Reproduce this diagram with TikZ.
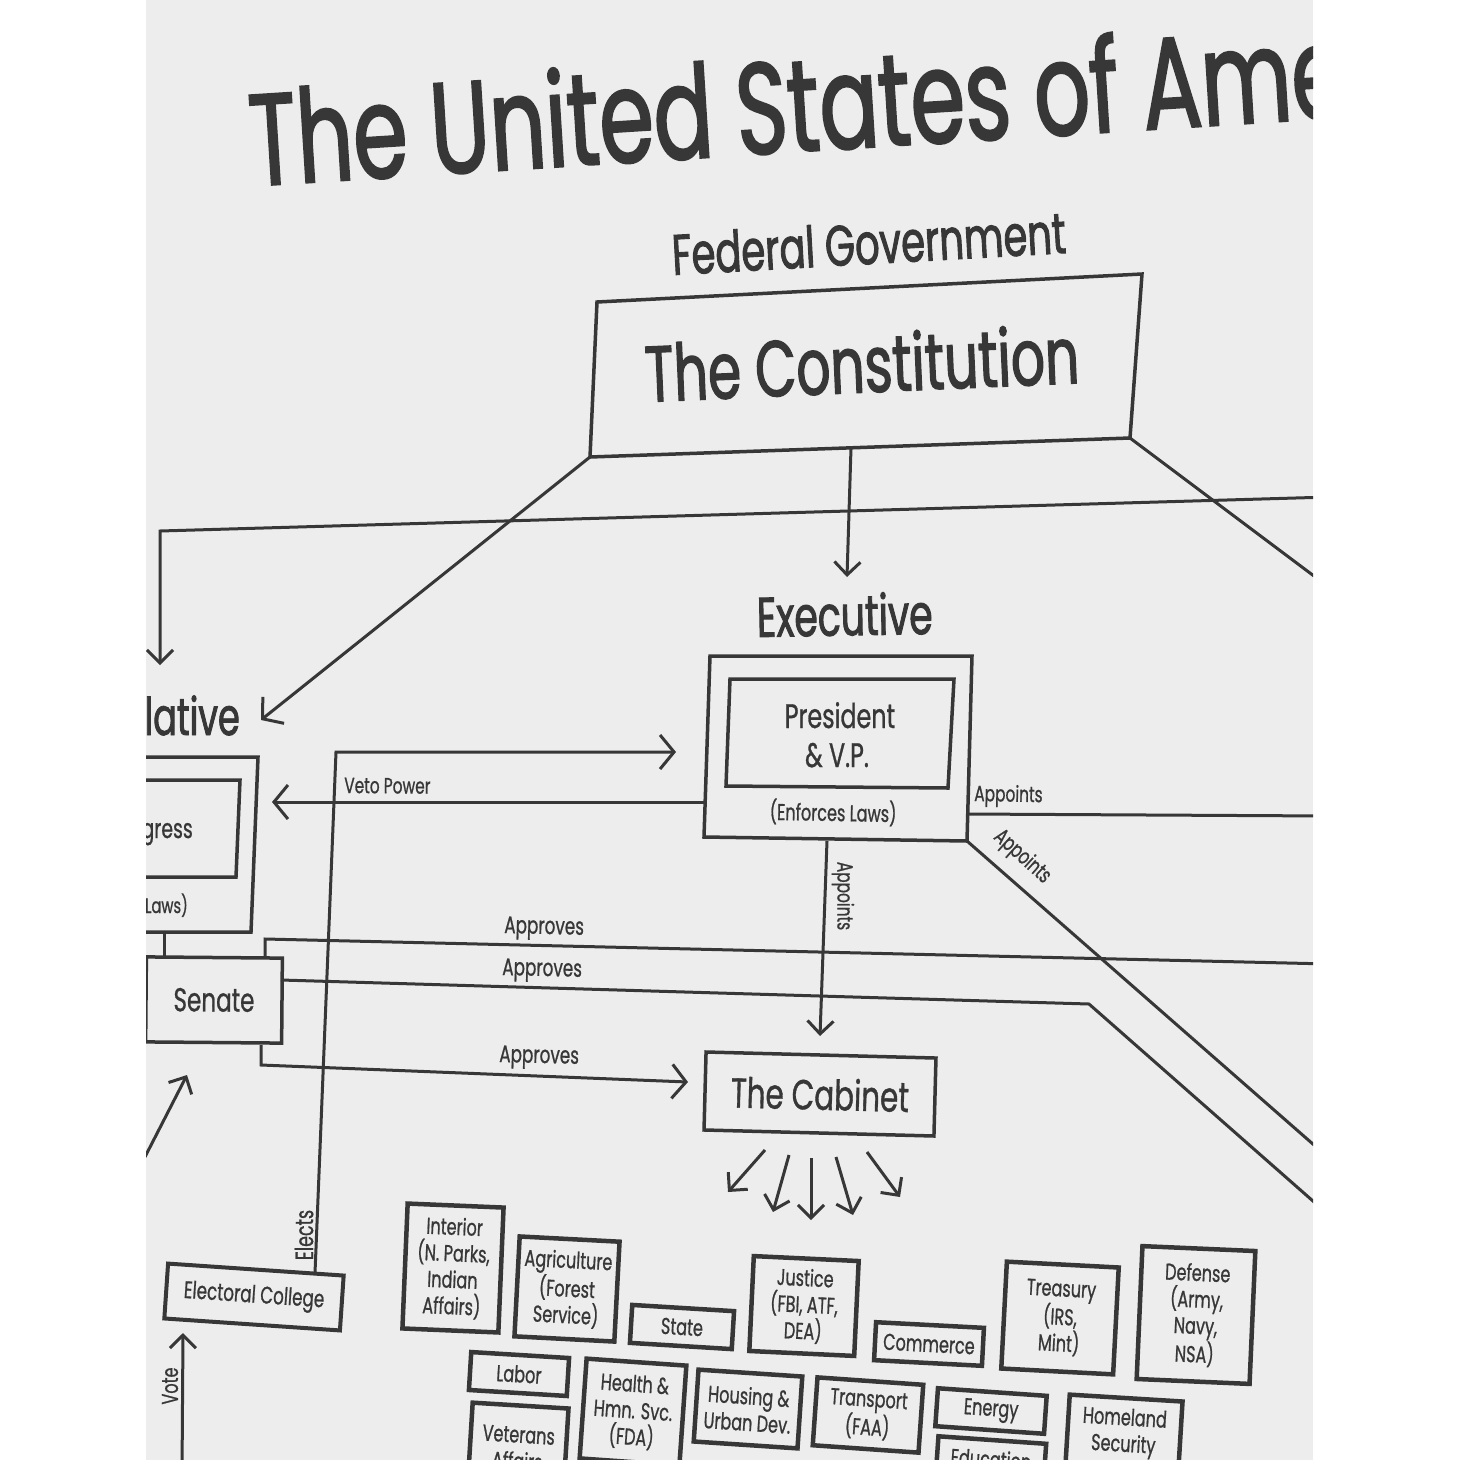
\documentclass[tikz,border=0pt]{standalone}
\usepackage{fontspec}
\newfontfamily\fut[FakeStretch=0.7,FakeBold=0.8]{Poppins}
\newfontfamily\futT[FakeStretch=0.675,FakeBold=1.6]{Poppins}
\usetikzlibrary{arrows.meta}
\definecolor{ink}{RGB}{55,55,55}
\definecolor{paper}{RGB}{237,237,237}
\newcommand{\fsz}[2]{\fut\fontsize{#1pt}{#2pt}\selectfont}
\newcommand{\tsz}[2]{\futT\fontsize{#1pt}{#2pt}\selectfont}
\tikzset{
  ln/.style={draw=ink, line width=3pt, line join=miter},
  arr/.style={ln, -{Straight Barb[length=14pt,width=34pt]}},
  sarr/.style={ln, -{Straight Barb[length=13pt,width=26pt]}},
  frame/.style={draw=ink, line width=3.5pt, line join=miter},
  txt/.style={text=ink, inner sep=0pt},
  box/.style={draw=ink, line width=3.5pt, text=ink, align=center, inner sep=0pt},
  dept/.style={box, line width=4.5pt, font=\fsz{23}{26.5}},
}
\begin{document}
\begin{tikzpicture}[x=1pt,y=-1pt]
\useasboundingbox (0,0) rectangle (1460,1460);
\fill[white] (0,0) rectangle (1460,1460);
\fill[paper] (146,0) rectangle (1313,1460);
\begin{scope}
\clip (146,0) rectangle (1313,1460);
% ---------- titles
\node[txt, anchor=base west, rotate=3.6, font=\tsz{130}{140}] (title) at (252,186) {The United States of America};
\node[txt, anchor=base west, rotate=3.2, font=\tsz{57}{62}] (federal) at (673,275) {Federal Government};
% ---------- constitution
\coordinate (cTL) at (597,302);
\coordinate (cTR) at (1142,274);
\coordinate (cBR) at (1130,438);
\coordinate (cBL) at (590,457);
\draw[frame] (cTL) -- (cTR) -- (cBR) -- (cBL) -- cycle;
\node[txt, anchor=base west, rotate=2.5, font=\tsz{79}{84}] (constitution) at (646,402) {The Constitution};
\coordinate (cBot) at (851,448);
\coordinate (execTip) at (847,577);
\draw[sarr] (cBot) -- (execTip);
\coordinate (legTip) at (261,720);
\draw[arr] (cBL) -- (legTip);
\coordinate (rightIn) at (1330,497);
\coordinate (judL) at (160,531);
\coordinate (judTip) at (160,665);
\draw[sarr] (rightIn) -- (judL) -- (judTip);
\coordinate (rightDiag) at (1330,588);
\draw[ln] (cBR) -- (rightDiag);
% ---------- branch headings
\node[txt, anchor=base west, rotate=1, font=\tsz{56}{60}] (executive) at (757,637) {Executive};
\node[txt, anchor=base east, font=\tsz{52}{56}] (legislative) at (240,735) {Legislative};
% ---------- executive box
\coordinate (eTL) at (710,656);
\coordinate (eTR) at (972,656);
\coordinate (eBR) at (967,841);
\coordinate (eBL) at (704,837);
\draw[frame] (eTL) -- (eTR) -- (eBR) -- (eBL) -- cycle;
\coordinate (pTL) at (730,679);
\coordinate (pTR) at (954,679);
\coordinate (pBR) at (948,788);
\coordinate (pBL) at (726,786);
\draw[frame] (pTL) -- (pTR) -- (pBR) -- (pBL) -- cycle;
\node[txt, anchor=base, font=\fsz{34}{38}] (president) at (840,728) {President};
\node[txt, anchor=base, font=\fsz{34}{38}] (vp) at (837,767) {\& V.P.};
\node[txt, anchor=base, rotate=-1, font=\fsz{23}{26}] (enforces) at (833,821) {(Enforces Laws)};
% ---------- congress box
\coordinate (gTL) at (100,757);
\coordinate (gTR) at (258,757);
\coordinate (gBR) at (251,932);
\coordinate (gBL) at (100,932);
\draw[frame] (gTL) -- (gTR) -- (gBR) -- (gBL) -- cycle;
\coordinate (iTL) at (100,780);
\coordinate (iTR) at (240,780);
\coordinate (iBR) at (236,877);
\coordinate (iBL) at (100,877);
\draw[frame] (iTL) -- (iTR) -- (iBR) -- (iBL) -- cycle;
\node[txt, anchor=base east, font=\fsz{27}{30}] (congress) at (193,838) {Congress};
\node[txt, anchor=base east, font=\fsz{21}{24}] (makes) at (188,913) {(Makes Laws)};
% ---------- veto / president arrows
\coordinate (vetoStart) at (705,802);
\coordinate (vetoTip) at (272,802);
\draw[arr] (vetoStart) -- (vetoTip);
\node[txt, anchor=base west, rotate=-0.5, font=\fsz{22}{24}] (veto) at (344,793) {Veto Power};
% ---------- senate
\node[box, rotate=-0.5, minimum width=136pt, minimum height=85pt, font=\fsz{33}{36}] (senate) at (214,1000) {Senate};
\coordinate (gs1) at (164,932);
\coordinate (gs2) at (164,957);
\draw[ln] (gs1) -- (gs2);
\coordinate (a1a) at (265,957);
\coordinate (a1b) at (265,939);
\coordinate (a1c) at (1330,964);
\draw[ln] (a1a) -- (a1b) -- (a1c);
\node[txt, anchor=base west, rotate=-1.3, font=\fsz{24}{26}] (ap1) at (504,933) {Approves};
\coordinate (a2a) at (281,980);
\coordinate (a2b) at (1089,1004);
\coordinate (a2c) at (1330,1216);
\draw[ln] (a2a) -- (a2b) -- (a2c);
\node[txt, anchor=base west, rotate=-1.3, font=\fsz{24}{26}] (ap2) at (502,975) {Approves};
\coordinate (a3a) at (261,1045);
\coordinate (a3b) at (261,1065);
\coordinate (a3c) at (688,1082);
\draw[arr] (a3a) -- (a3b) -- (a3c);
\node[txt, anchor=base west, rotate=-1.3, font=\fsz{24}{26}] (ap3) at (499,1062) {Approves};
% ---------- appoints
\coordinate (apR1) at (967,814);
\coordinate (apR2) at (1330,816);
\draw[ln] (apR1) -- (apR2);
\node[txt, anchor=base west, rotate=-1, font=\fsz{22}{24}] (appR) at (974,801) {Appoints};
\coordinate (apD2) at (1330,1159);
\draw[ln] (eBR) -- (apD2);
\node[txt, rotate=-42, font=\fsz{22}{24}] (appD) at (1022,857) {Appoints};
\coordinate (apV1) at (827,841);
\coordinate (apV2) at (820,1036);
\draw[sarr] (apV1) -- (apV2);
\node[txt, rotate=-90, font=\fsz{22}{24}] (appV) at (843,896) {Appoints};
% ---------- cabinet
\node[box, rotate=-1.5, minimum width=230pt, minimum height=78pt, font=\fsz{42}{46}] (cabinet) at (820,1094) {The Cabinet};
\coordinate (k1s) at (765,1150); \coordinate (k1t) at (728,1192);
\coordinate (k2s) at (789,1155); \coordinate (k2t) at (773,1212);
\coordinate (k3s) at (811,1158); \coordinate (k3t) at (811,1220);
\coordinate (k4s) at (836,1157); \coordinate (k4t) at (853,1215);
\coordinate (k5s) at (867,1152); \coordinate (k5t) at (900,1197);
\foreach \i in {1,...,5} {\draw[sarr] (k\i s) -- (k\i t);}
% ---------- electoral college
\node[box, line width=4pt, rotate=-3.9, minimum width=176pt, minimum height=55pt, font=\fsz{24}{26}] (electoral) at (254,1297) {Electoral College};
\coordinate (ecTop) at (315,1273);
\coordinate (presCorner) at (336,752);
\coordinate (presTip) at (676,752);
\draw[arr] (ecTop) -- (presCorner) -- (presTip);
\node[txt, rotate=90, font=\fsz{25}{27}] (elects) at (304,1235) {Elects};
\coordinate (vote1) at (182,1475);
\coordinate (vote2) at (183,1333);
\draw[sarr] (vote1) -- (vote2);
\node[txt, rotate=90, font=\fsz{23}{25}] (vote) at (170,1386) {Vote};
\coordinate (dg1) at (128,1190);
\coordinate (dg2) at (187,1075);
\draw[sarr] (dg1) -- (dg2);
% ---------- departments
\node[dept, rotate=-2.4, minimum width=96pt, minimum height=125pt] (interior) at (453,1268) {Interior\\(N. Parks,\\Indian\\Affairs)};
\node[dept, rotate=-3, minimum width=100pt, minimum height=100pt] (agriculture) at (567,1289) {Agriculture\\(Forest\\Service)};
\node[dept, rotate=-3.5, minimum width=102pt, minimum height=38pt] (state) at (682,1327) {State};
\node[dept, rotate=-2.7, minimum width=105pt, minimum height=95pt] (justice) at (804,1306) {Justice\\(FBI, ATF,\\DEA)};
\node[dept, rotate=-3, minimum width=108pt, minimum height=38pt] (commerce) at (929,1344) {Commerce};
\node[dept, rotate=-3, minimum width=112pt, minimum height=107pt] (treasury) at (1060,1318) {Treasury\\(IRS,\\Mint)};
\node[dept, rotate=-2.5, minimum width=113pt, minimum height=133pt] (defense) at (1196,1315) {Defense\\(Army,\\Navy,\\NSA)};
\node[dept, rotate=-3.5, minimum width=98pt, minimum height=38pt] (labor) at (519,1374) {Labor};
\node[dept, rotate=-3.5, minimum width=96pt, minimum height=85pt] (veterans) at (518,1448) {Veterans\\Affairs};
\node[dept, rotate=-4, minimum width=100pt, minimum height=100pt] (health) at (633,1412) {Health \&\\Hmn. Svc.\\(FDA)};
\node[dept, rotate=-3.8, minimum width=104pt, minimum height=72pt] (housing) at (748,1409) {Housing \&\\Urban Dev.};
\node[dept, rotate=-4, minimum width=106pt, minimum height=68pt] (transport) at (868,1415) {Transport\\(FAA)};
\node[dept, rotate=-4, minimum width=109pt, minimum height=38pt] (energy) at (991,1411) {Energy};
\node[dept, rotate=-4, minimum width=108pt, minimum height=38pt] (education) at (991,1459) {Education};
\node[dept, rotate=-3.5, minimum width=113pt, minimum height=70pt] (homeland) at (1124,1433) {Homeland\\Security};
\end{scope}
\end{tikzpicture}
\end{document}
